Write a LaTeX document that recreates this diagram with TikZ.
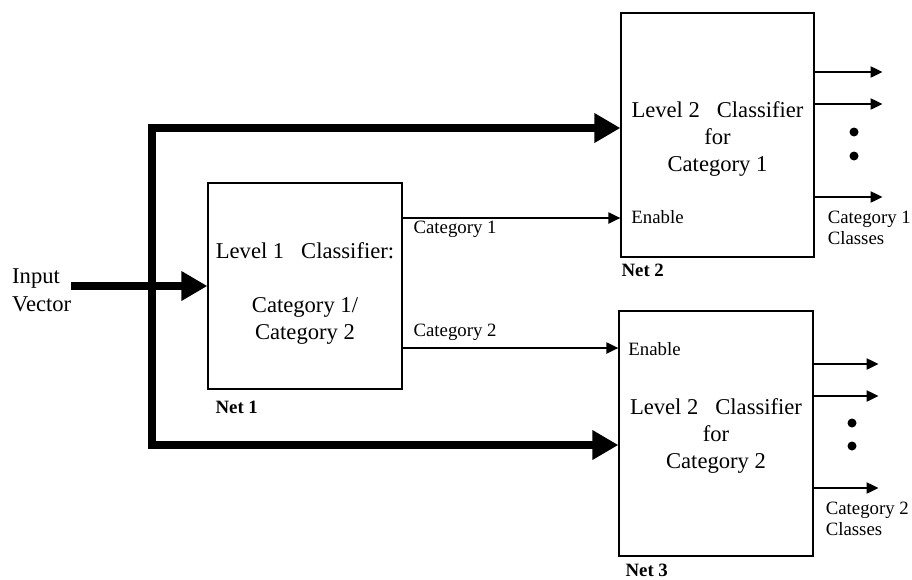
\documentclass[tikz,border=0pt]{standalone}
\usepackage{fontspec}
\setmainfont{Liberation Serif}
\usetikzlibrary{arrows.meta,positioning,calc}
\newcommand{\bigsize}{\fontsize{22.6pt}{27pt}\selectfont}
\newcommand{\lblsize}{\fontsize{18.8pt}{21pt}\selectfont}

\begin{document}
\begin{tikzpicture}[x=1pt,y=-1pt,
  box/.style={draw,line width=1.2pt,inner sep=0pt,minimum width=194pt},
  txt/.style={align=center,font=\bigsize,inner sep=0pt},
  lbl/.style={font=\lblsize,inner sep=0pt,anchor=base west,align=left},
  net/.style={font=\lblsize\bfseries,inner sep=0pt,anchor=base west},
  ar/.style={-{Triangle[length=12pt,width=11pt]},line width=2pt},
  bus/.style={line width=8pt,line join=miter},
  dot/.style={circle,fill,inner sep=0pt,minimum size=9pt}
]
\useasboundingbox (0,0) rectangle (912,579);
% the three classifiers
\node[box,minimum height=206pt] (net1) at (305,286) {};
\node[box,minimum width=193pt,minimum height=244pt] (net2) at (717.5,135) {};
\node[box,minimum height=245pt] (net3) at (716,433.5) {};
\node[txt,yshift=-7.75pt] (t1) at (net1.center) {Level 1~~~Classifier:\\[27pt]Category 1/\\Category 2};
\node[txt,yshift=-3.75pt] (t2) at (net2.center) {Level 2~~~Classifier\\for\\Category 1};
\node[txt,yshift=-2.25pt] (t3) at (net3.center) {Level 2~~~Classifier\\for\\Category 2};
\node[net] (n1) at ([xshift=8pt,yshift=-24pt]net1.south west) {Net 1};
\node[net] (n2) at ([xshift=1pt,yshift=-19pt]net2.south west) {Net 2};
\node[net] (n3) at ([xshift=7pt,yshift=-20pt]net3.south west) {Net 3};
% input and bus
\node[txt,align=left,anchor=north west,font=\fontsize{22.6pt}{28pt}\selectfont] (in) at (12,268) {Input\\Vector};
\draw[bus,-{Triangle[length=26pt,width=28pt]}] (in.east |- net1.west) -- (net1.west);
\coordinate (bt) at (152,128);
\coordinate (bb) at (152,445);
\draw[bus,{Triangle[length=26pt,width=28pt]}-{Triangle[length=26pt,width=28pt]}]
  (bt -| net2.west) -- (bt) -- (bb) -- (bb -| net3.west);
% category outputs to enable inputs
\draw[ar] ([yshift=68pt]net1.east) -- ([yshift=68pt]net1.east -| net2.west)
  node[lbl,pos=0,xshift=10pt,yshift=-15pt] (c1) {Category 1}
  node[lbl,pos=1,xshift=10pt,yshift=-5pt] (e1) {Enable};
\draw[ar] ([yshift=-62pt]net1.east) -- ([yshift=-62pt]net1.east -| net3.west)
  node[lbl,pos=0,xshift=10pt,yshift=12pt] (c2) {Category 2}
  node[lbl,pos=1,xshift=9pt,yshift=-7pt] (e2) {Enable};
% class outputs
\foreach \s in {63,31,-62} \draw[ar] ([yshift=\s pt]net2.east) -- ++(68,0);
\foreach \s in {69.5,37.5,-54.5} \draw[ar] ([yshift=\s pt]net3.east) -- ++(65,0);
\node[dot] (d1) at (854,132) {};
\node[dot] (d2) at (854,156) {};
\node[dot] (d3) at (852,423) {};
\node[dot] (d4) at (852,446) {};
\node[lbl,anchor=north west] (k1) at ([xshift=13pt,yshift=-76.3pt]net2.east) {Category 1\\Classes};
\node[lbl,anchor=north west] (k2) at ([xshift=12pt,yshift=-68.8pt]net3.east) {Category 2\\Classes};
\end{tikzpicture}
\end{document}
